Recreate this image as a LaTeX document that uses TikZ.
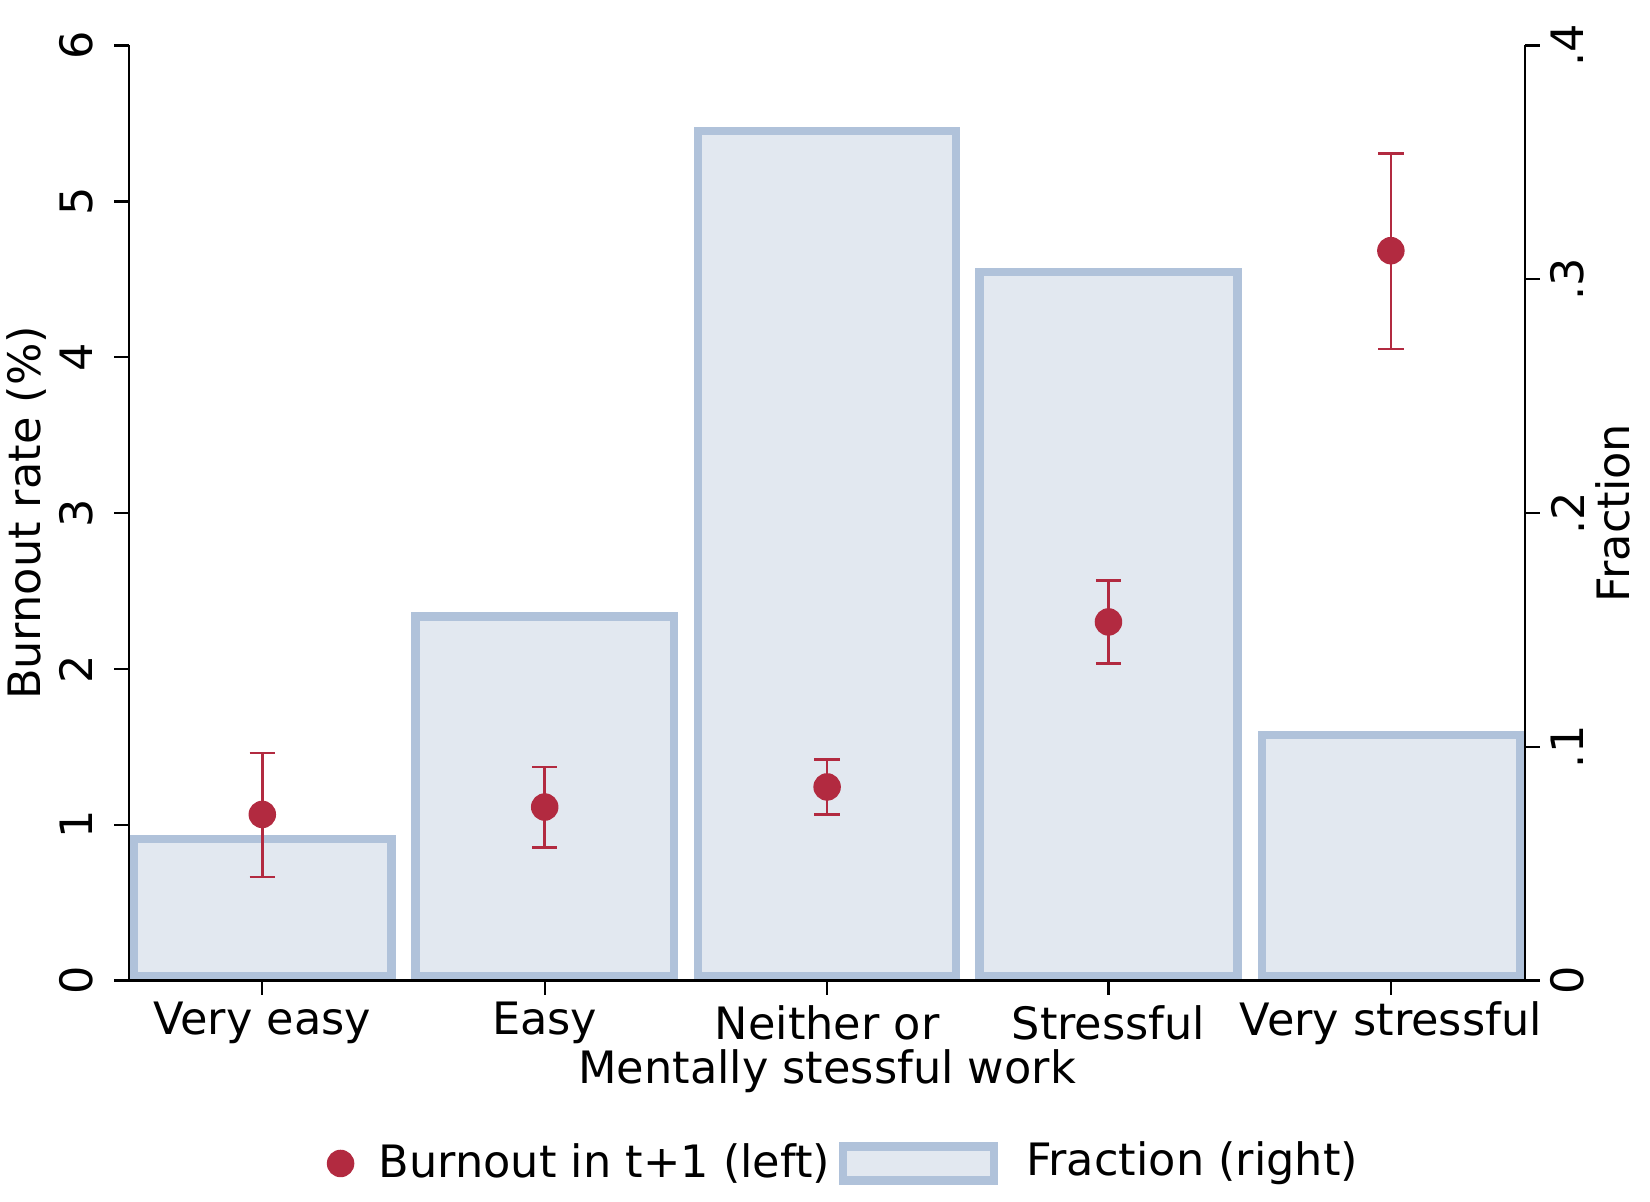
\documentclass[tikz,border=0pt]{standalone}
\usepackage{fontspec}
\setmainfont{DejaVu Sans}
\definecolor{barline}{HTML}{B0C2DA}
\definecolor{barfill}{HTML}{E2E8F0}
\definecolor{pt}{HTML}{B22A40}
\begin{document}
\begin{tikzpicture}[x=0.03cm,y=-0.03cm,
  bar/.style={draw=barline,fill=barfill,line width=8*0.03cm},
  axis/.style={line width=2.2*0.03cm,black},
  ci/.style={pt,line width=2.5*0.03cm},
  lab/.style={font=\fontsize{36}{40}\selectfont,inner sep=0pt},
  dot/.style={circle,fill=pt,inner sep=0pt,minimum size=26*0.03cm}]
\useasboundingbox (0,0) rectangle (1560,1136);
% bars
\foreach \c/\t in {248/793,515/583,782/124,1048/257,1315/695}
  \draw[bar] (\c-122,\t) rectangle (\c+122,923);
% axes
\draw[axis] (122,43) -- (122,927) -- (1442,927) -- (1442,43);
\foreach \i in {0,...,6}{
  \draw[axis] (108,927-147.33*\i) -- (122,927-147.33*\i);
  \node[lab,rotate=90] (l\i) at (72,927-147.33*\i) {\i};}
\foreach \v/\s in {0/0,1/.1,2/.2,3/.3,4/.4}{
  \draw[axis] (1442,927-221*\v) -- (1456,927-221*\v);
  \node[lab,rotate=90] (r\v) at (1482,927-221*\v) {\s};}
\foreach \c/\s in {248/Very easy,515/Easy,782/Neither or,1048/Stressful,1315/Very stressful}{
  \draw[axis] (\c,927) -- (\c,941);
  \node[lab] at (\c,967) {\s};}
\node[lab] (xt) at (782,1013) {Mentally stessful work};
\node[lab,rotate=90] (yl) at (25,485) {Burnout rate (\%)};
\node[lab,rotate=90] (yr) at (1525,485) {Fraction};
% points with CI
\foreach \c/\m/\lo/\hi in {248/770/829/712,515/763/801/725,782/744/770/718,1048/588/627/549,1315/237/330/145}{
  \draw[ci] (\c,\lo) -- (\c,\hi);
  \draw[ci] (\c-12,\lo) -- (\c+12,\lo);
  \draw[ci] (\c-12,\hi) -- (\c+12,\hi);
  \node[dot] at (\c,\m) {};}
% legend
\node[dot] (ld) at (322,1100) {};
\node[lab,anchor=west] (lt1) at (358,1100) {Burnout in t+1 (left)};
\draw[bar] (797,1084) rectangle (940,1116);
\node[lab,anchor=west] (lt2) at (970,1100) {Fraction (right)};
\end{tikzpicture}
\end{document}
